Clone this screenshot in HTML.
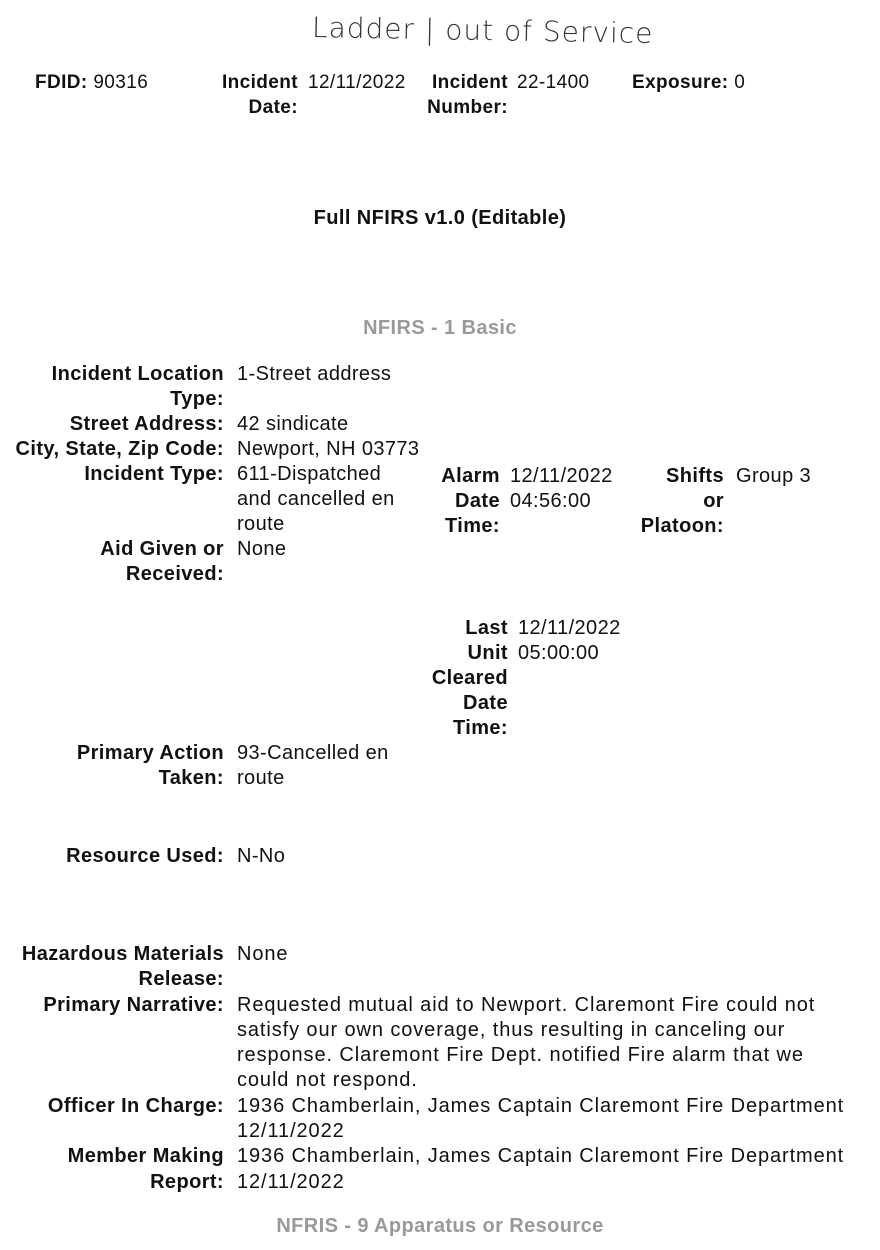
<!DOCTYPE html>
<html><head><meta charset="utf-8"><style>
body{margin:0;width:880px;height:1250px;background:#fff;position:relative;overflow:hidden;font-family:"Liberation Sans",sans-serif;color:#111;font-size:20px;letter-spacing:0.4px}
.a{position:absolute;line-height:25px;white-space:nowrap}
.r{text-align:right}
.b{font-weight:bold}
.l{right:656px}
.v{left:237px}
.g{color:#999;font-weight:bold;left:0;width:880px;text-align:center}
</style></head><body>
<div class="a" style="left:312px;top:18px;font-family:'DejaVu Sans',sans-serif;font-size:28px;font-weight:200;color:#333;letter-spacing:1px;transform:rotate(1deg)">Ladder | out of Service</div>

<div class="a" style="left:35px;top:70px;font-size:19px"><b>FDID:</b> 90316</div>
<div class="a r b" style="right:582px;top:70px;font-size:19px">Incident<br>Date:</div>
<div class="a" style="left:308px;top:70px;font-size:19px">12/11/2022</div>
<div class="a r b" style="right:372px;top:70px;font-size:19px">Incident<br>Number:</div>
<div class="a" style="left:517px;top:70px;font-size:19px">22-1400</div>
<div class="a" style="left:632px;top:70px;font-size:19px"><b>Exposure:</b> 0</div>

<div class="a b" style="left:0;width:880px;text-align:center;top:206px">Full NFIRS v1.0 (Editable)</div>
<div class="a g" style="top:316px">NFIRS - 1 Basic</div>

<div class="a r b l" style="top:362px">Incident Location<br>Type:<br>Street Address:<br>City, State, Zip Code:<br>Incident Type:<br><br><br>Aid Given or<br>Received:</div>
<div class="a v" style="top:362px">1-Street address<br><br>42 sindicate<br>Newport, NH 03773<br>611-Dispatched<br>and cancelled en<br>route<br>None</div>
<div class="a r b" style="right:380px;top:464px">Alarm<br>Date<br>Time:</div>
<div class="a" style="left:510px;top:464px">12/11/2022<br>04:56:00</div>
<div class="a r b" style="right:156px;top:464px">Shifts<br>or<br>Platoon:</div>
<div class="a" style="left:736px;top:464px">Group 3</div>

<div class="a r b" style="right:372px;top:616px">Last<br>Unit<br>Cleared<br>Date<br>Time:</div>
<div class="a" style="left:518px;top:616px">12/11/2022<br>05:00:00</div>

<div class="a r b l" style="top:741px">Primary Action<br>Taken:</div>
<div class="a v" style="top:741px">93-Cancelled en<br>route</div>

<div class="a r b l" style="top:844px">Resource Used:</div>
<div class="a v" style="top:844px">N-No</div>

<div class="a r b l" style="top:942px;line-height:25.3px">Hazardous Materials<br>Release:<br>Primary Narrative:<br><br><br><br>Officer In Charge:<br><br>Member Making<br>Report:</div>
<div class="a v" style="top:942px;line-height:25.3px;letter-spacing:0.9px">None<br><br>Requested mutual aid to Newport. Claremont Fire could not<br>satisfy our own coverage, thus resulting in canceling our<br>response. Claremont Fire Dept. notified Fire alarm that we<br>could not respond.<br>1936 Chamberlain, James Captain Claremont Fire Department<br>12/11/2022<br>1936 Chamberlain, James Captain Claremont Fire Department<br>12/11/2022</div>

<div class="a g" style="top:1214px">NFRIS - 9 Apparatus or Resource</div>
</body></html>
